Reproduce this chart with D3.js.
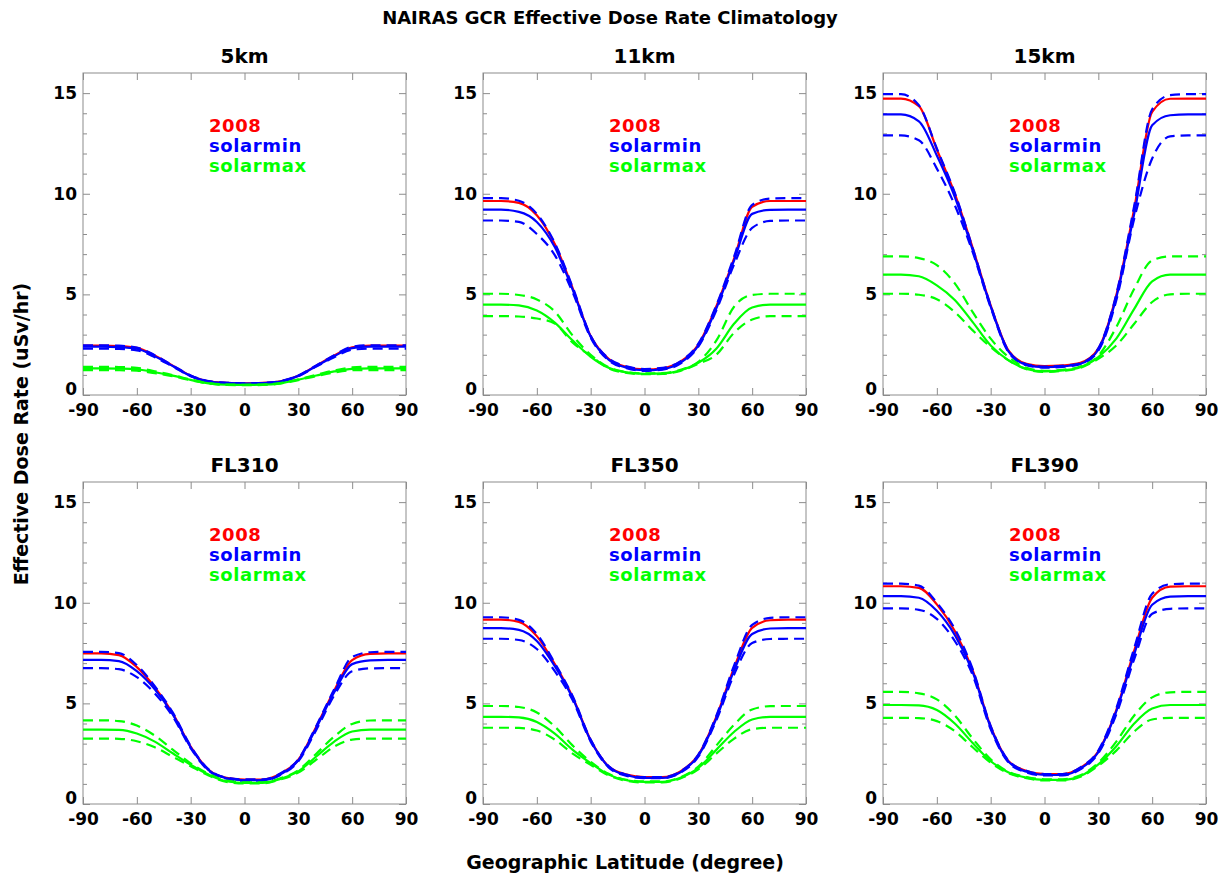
<!DOCTYPE html>
<html>
<head>
<meta charset="utf-8">
<script src="https://cdn.jsdelivr.net/npm/d3@7"></script>
<style>
  body { margin: 0; background: #fff; }
  text { font-family: "DejaVu Sans", "Liberation Sans", Arial, sans-serif; font-weight: bold; }
</style>
</head>
<body>
<script>
// latitude grid (degree)
var lats = [-90, -80, -70, -60, -50, -40, -30, -20, -10, 0, 10, 20, 30, 40, 50, 60, 70, 80, 90];

var panelTitles = ["5km", "11km", "15km", "FL310", "FL350", "FL390"];
var xTicks = [-90, -60, -30, 0, 30, 60, 90];
var yTicks = [0, 5, 10, 15];
var yMinorTicks = [1, 2, 3, 4, 6, 7, 8, 9, 11, 12, 13, 14];
var legendLabels = ["2008", "solarmin", "solarmax"];

// effective dose rate (uSv/hr), one row per panel
var rate2008 = [
  [2.45, 2.45, 2.43, 2.34, 1.96, 1.46, 0.96, 0.68, 0.61, 0.58, 0.6, 0.68, 0.96, 1.46, 1.96, 2.37, 2.45, 2.45, 2.45],
  [9.64, 9.64, 9.55, 8.93, 7.5, 5.3, 2.93, 1.8, 1.4, 1.27, 1.33, 1.65, 2.5, 4.4, 6.8, 9.35, 9.64, 9.64, 9.64],
  [14.73, 14.73, 14.35, 12.2, 10.0, 7.3, 4.45, 2.2, 1.55, 1.43, 1.47, 1.6, 2.3, 4.95, 9.26, 14.07, 14.72, 14.73, 14.73],
  [7.48, 7.48, 7.4, 6.8, 5.8, 4.5, 2.85, 1.7, 1.3, 1.21, 1.21, 1.5, 2.2, 3.84, 5.64, 7.15, 7.46, 7.48, 7.48],
  [9.16, 9.16, 9.05, 8.34, 6.95, 5.31, 3.18, 1.87, 1.46, 1.34, 1.34, 1.62, 2.44, 4.33, 6.79, 8.75, 9.13, 9.16, 9.16],
  [10.82, 10.82, 10.74, 9.92, 8.6, 6.64, 3.85, 2.13, 1.64, 1.48, 1.48, 1.8, 2.62, 4.67, 7.62, 10.25, 10.8, 10.82, 10.82]
];
var solarMin = [
  [2.4, 2.4, 2.38, 2.3, 1.93, 1.44, 0.95, 0.67, 0.6, 0.57, 0.59, 0.67, 0.95, 1.44, 1.93, 2.33, 2.4, 2.4, 2.4],
  [9.21, 9.21, 9.1, 8.6, 7.35, 5.22, 2.9, 1.76, 1.36, 1.23, 1.29, 1.6, 2.45, 4.3, 6.7, 9.0, 9.2, 9.21, 9.21],
  [13.94, 13.94, 13.6, 11.9, 9.85, 7.2, 4.4, 2.15, 1.5, 1.38, 1.42, 1.55, 2.25, 4.85, 9.0, 13.4, 13.9, 13.94, 13.94],
  [7.16, 7.16, 7.1, 6.6, 5.7, 4.45, 2.82, 1.68, 1.28, 1.18, 1.18, 1.47, 2.17, 3.78, 5.55, 6.95, 7.14, 7.16, 7.16],
  [8.74, 8.74, 8.65, 8.1, 6.85, 5.25, 3.15, 1.85, 1.43, 1.3, 1.3, 1.58, 2.4, 4.25, 6.65, 8.45, 8.72, 8.74, 8.74],
  [10.33, 10.33, 10.25, 9.6, 8.4, 6.55, 3.8, 2.1, 1.6, 1.44, 1.44, 1.76, 2.58, 4.6, 7.45, 9.9, 10.3, 10.33, 10.33]
];
var solarMinHi = [
  [2.47, 2.47, 2.45, 2.36, 1.98, 1.47, 0.97, 0.69, 0.61, 0.58, 0.6, 0.69, 0.97, 1.47, 1.98, 2.4, 2.47, 2.47, 2.47],
  [9.78, 9.78, 9.65, 9.0, 7.55, 5.35, 2.95, 1.82, 1.42, 1.29, 1.35, 1.67, 2.55, 4.45, 6.9, 9.45, 9.76, 9.78, 9.78],
  [14.95, 14.95, 14.4, 12.25, 10.05, 7.3, 4.45, 2.18, 1.53, 1.41, 1.45, 1.58, 2.32, 5.0, 9.4, 14.2, 14.9, 14.95, 14.95],
  [7.56, 7.56, 7.5, 6.9, 5.85, 4.55, 2.88, 1.72, 1.31, 1.22, 1.22, 1.52, 2.22, 3.88, 5.7, 7.3, 7.54, 7.56, 7.56],
  [9.28, 9.28, 9.15, 8.45, 7.0, 5.35, 3.2, 1.88, 1.46, 1.34, 1.34, 1.62, 2.46, 4.38, 6.9, 8.9, 9.25, 9.28, 9.28],
  [10.95, 10.95, 10.85, 10.0, 8.7, 6.7, 3.88, 2.15, 1.65, 1.49, 1.49, 1.82, 2.66, 4.75, 7.75, 10.45, 10.92, 10.95, 10.95]
];
var solarMinLo = [
  [2.3, 2.3, 2.29, 2.22, 1.88, 1.41, 0.93, 0.66, 0.59, 0.56, 0.58, 0.66, 0.93, 1.41, 1.88, 2.25, 2.3, 2.3, 2.3],
  [8.67, 8.67, 8.6, 8.0, 6.95, 5.1, 2.85, 1.72, 1.33, 1.2, 1.26, 1.56, 2.4, 4.2, 6.5, 8.3, 8.65, 8.67, 8.67],
  [12.9, 12.9, 12.66, 11.25, 9.43, 7.1, 4.35, 2.12, 1.48, 1.36, 1.4, 1.53, 2.2, 4.7, 8.76, 11.75, 12.85, 12.9, 12.9],
  [6.75, 6.75, 6.7, 6.3, 5.5, 4.35, 2.78, 1.65, 1.26, 1.16, 1.16, 1.44, 2.12, 3.68, 5.4, 6.6, 6.74, 6.75, 6.75],
  [8.21, 8.21, 8.15, 7.7, 6.6, 5.15, 3.1, 1.82, 1.4, 1.28, 1.28, 1.55, 2.35, 4.15, 6.45, 8.0, 8.2, 8.21, 8.21],
  [9.72, 9.72, 9.65, 9.2, 8.1, 6.4, 3.72, 2.06, 1.57, 1.42, 1.42, 1.72, 2.52, 4.45, 7.2, 9.45, 9.7, 9.72, 9.72]
];
var solarMax = [
  [1.32, 1.32, 1.31, 1.28, 1.13, 0.96, 0.75, 0.58, 0.51, 0.5, 0.51, 0.58, 0.76, 0.97, 1.17, 1.3, 1.32, 1.32, 1.32],
  [4.49, 4.49, 4.45, 4.2, 3.6, 2.7, 1.9, 1.35, 1.12, 1.05, 1.07, 1.22, 1.6, 2.3, 3.55, 4.35, 4.49, 4.49, 4.49],
  [5.98, 5.98, 5.9, 5.45, 4.72, 3.62, 2.46, 1.72, 1.3, 1.17, 1.22, 1.38, 1.88, 2.8, 4.28, 5.65, 5.98, 5.98, 5.98],
  [3.7, 3.7, 3.68, 3.5, 3.1, 2.52, 1.95, 1.46, 1.13, 1.05, 1.05, 1.25, 1.62, 2.36, 3.1, 3.6, 3.7, 3.7, 3.7],
  [4.33, 4.33, 4.3, 4.08, 3.5, 2.69, 2.03, 1.46, 1.18, 1.1, 1.1, 1.3, 1.79, 2.69, 3.59, 4.2, 4.33, 4.33, 4.33],
  [4.92, 4.92, 4.9, 4.67, 4.0, 3.03, 2.13, 1.56, 1.31, 1.2, 1.2, 1.39, 1.97, 2.87, 4.0, 4.75, 4.92, 4.92, 4.92]
];
var solarMaxHi = [
  [1.4, 1.4, 1.39, 1.35, 1.18, 0.99, 0.77, 0.59, 0.52, 0.51, 0.52, 0.59, 0.78, 1.0, 1.22, 1.37, 1.4, 1.4, 1.4],
  [5.03, 5.03, 4.97, 4.75, 4.15, 2.95, 2.0, 1.38, 1.14, 1.07, 1.09, 1.25, 1.65, 2.7, 4.4, 4.97, 5.03, 5.03, 5.03],
  [6.89, 6.89, 6.8, 6.45, 5.55, 4.12, 2.8, 1.88, 1.35, 1.2, 1.25, 1.42, 1.95, 3.37, 5.28, 6.69, 6.89, 6.89, 6.89],
  [4.16, 4.16, 4.12, 3.9, 3.4, 2.7, 2.02, 1.5, 1.16, 1.08, 1.08, 1.28, 1.68, 2.5, 3.35, 3.98, 4.15, 4.16, 4.16],
  [4.87, 4.87, 4.82, 4.55, 3.85, 2.9, 2.1, 1.5, 1.2, 1.12, 1.12, 1.33, 1.86, 2.9, 3.95, 4.7, 4.86, 4.87, 4.87],
  [5.57, 5.57, 5.5, 5.2, 4.4, 3.25, 2.22, 1.6, 1.34, 1.23, 1.23, 1.43, 2.05, 3.1, 4.4, 5.3, 5.55, 5.57, 5.57]
];
var solarMaxLo = [
  [1.24, 1.24, 1.23, 1.21, 1.08, 0.93, 0.73, 0.57, 0.5, 0.49, 0.5, 0.57, 0.74, 0.94, 1.12, 1.23, 1.24, 1.24, 1.24],
  [3.92, 3.92, 3.9, 3.8, 3.55, 2.6, 1.95, 1.33, 1.1, 1.03, 1.05, 1.2, 1.55, 2.0, 3.1, 3.75, 3.92, 3.92, 3.92],
  [5.03, 5.03, 4.98, 4.76, 4.12, 3.21, 2.38, 1.72, 1.28, 1.15, 1.2, 1.35, 1.8, 2.46, 3.54, 4.62, 5.0, 5.03, 5.03],
  [3.25, 3.25, 3.24, 3.12, 2.82, 2.35, 1.88, 1.42, 1.1, 1.02, 1.02, 1.22, 1.56, 2.2, 2.85, 3.2, 3.25, 3.25, 3.25],
  [3.79, 3.79, 3.78, 3.65, 3.2, 2.5, 1.95, 1.42, 1.15, 1.07, 1.07, 1.27, 1.72, 2.5, 3.25, 3.72, 3.79, 3.79, 3.79],
  [4.28, 4.28, 4.27, 4.12, 3.62, 2.82, 2.05, 1.52, 1.28, 1.17, 1.17, 1.35, 1.9, 2.65, 3.6, 4.2, 4.28, 4.28, 4.28]
];

var RED = "#ff0000", BLUE = "#0000ff", GREEN = "#00ff00";
var frameColor = "#8c8c8c";

var width = 1220, height = 876;
var pw = 323, ph = 322;
var colX = [83, 483, 883];
var rowY = [73, 482];

var svg = d3.select("body").append("svg")
  .attr("width", width)
  .attr("height", height);

svg.append("rect").attr("width", width).attr("height", height).attr("fill", "#fff");

// page labels
svg.append("text")
  .attr("x", 610).attr("y", 24)
  .attr("text-anchor", "middle")
  .attr("font-size", 18)
  .text("NAIRAS GCR Effective Dose Rate Climatology");

svg.append("text")
  .attr("transform", "translate(28,434) rotate(-90)")
  .attr("text-anchor", "middle")
  .attr("font-size", 19)
  .text("Effective Dose Rate (uSv/hr)");

svg.append("text")
  .attr("x", 625).attr("y", 869)
  .attr("text-anchor", "middle")
  .attr("font-size", 19)
  .text("Geographic Latitude (degree)");

function styleAxis(sel) {
  sel.select(".domain").remove();
  sel.selectAll(".tick line").attr("stroke", frameColor);
  sel.selectAll(".tick text")
    .attr("fill", "#000")
    .attr("font-size", 17)
    .attr("font-family", '"DejaVu Sans", "Liberation Sans", Arial, sans-serif')
    .attr("font-weight", "bold");
}

panelTitles.forEach(function (title, i) {
  var px = colX[i % 3], py = rowY[Math.floor(i / 3)];
  var g = svg.append("g").attr("transform", "translate(" + px + "," + py + ")");

  var x = d3.scaleLinear().domain([-90, 90]).range([0, pw]);
  var y = d3.scaleLinear().domain([0, 16]).range([ph, 0]);

  g.append("text")
    .attr("x", pw / 2).attr("y", -10)
    .attr("text-anchor", "middle")
    .attr("font-size", 20)
    .text(title);

  // x axes (bottom with labels, top mirrored)
  g.append("g")
    .attr("transform", "translate(0," + ph + ")")
    .call(d3.axisBottom(x).tickValues(xTicks).tickSize(-7).tickPadding(9)
      .tickFormat(function (d) { return String(d); }))
    .call(styleAxis);
  g.append("g")
    .call(d3.axisTop(x).tickValues(xTicks).tickSize(-7).tickFormat(""))
    .call(styleAxis);

  // y axes (left with labels, right mirrored) + minor ticks
  var left = g.append("g")
    .call(d3.axisLeft(y).tickValues(yTicks).tickSize(-7).tickPadding(6)
      .tickFormat(function (d) { return String(d); }))
    .call(styleAxis);
  left.selectAll(".tick text").filter(function (d) { return d === 0; }).attr("dy", "-0.05em");
  g.append("g")
    .call(d3.axisLeft(y).tickValues(yMinorTicks).tickSize(-4).tickFormat(""))
    .call(styleAxis);
  g.append("g")
    .attr("transform", "translate(" + pw + ",0)")
    .call(d3.axisRight(y).tickValues(yTicks).tickSize(-7).tickFormat(""))
    .call(styleAxis);
  g.append("g")
    .attr("transform", "translate(" + pw + ",0)")
    .call(d3.axisRight(y).tickValues(yMinorTicks).tickSize(-4).tickFormat(""))
    .call(styleAxis);

  g.append("rect")
    .attr("width", pw).attr("height", ph)
    .attr("fill", "none")
    .attr("stroke", frameColor)
    .attr("stroke-width", 1);

  var line = d3.line()
    .x(function (d, j) { return x(lats[j]); })
    .y(function (d) { return y(d); })
    .curve(d3.curveMonotoneX);

  var series = [
    { values: rate2008[i], color: RED, dash: null },
    { values: solarMin[i], color: BLUE, dash: null },
    { values: solarMinHi[i], color: BLUE, dash: "10,6" },
    { values: solarMinLo[i], color: BLUE, dash: "10,6" },
    { values: solarMax[i], color: GREEN, dash: null },
    { values: solarMaxHi[i], color: GREEN, dash: "10,6" },
    { values: solarMaxLo[i], color: GREEN, dash: "10,6" }
  ];

  g.selectAll(".series")
    .data(series)
    .enter()
    .append("path")
    .attr("class", "series")
    .attr("d", function (d) { return line(d.values); })
    .attr("fill", "none")
    .attr("stroke", function (d) { return d.color; })
    .attr("stroke-width", 2.2)
    .attr("stroke-dasharray", function (d) { return d.dash; });

  var legendColors = [RED, BLUE, GREEN];
  g.selectAll(".legend")
    .data(legendLabels)
    .enter()
    .append("text")
    .attr("class", "legend")
    .attr("x", 126)
    .attr("y", function (d, k) { return 59 + k * 20; })
    .attr("font-size", 18)
    .attr("letter-spacing", 0.6)
    .attr("fill", function (d, k) { return legendColors[k]; })
    .text(function (d) { return d; });
});
</script>
</body>
</html>
